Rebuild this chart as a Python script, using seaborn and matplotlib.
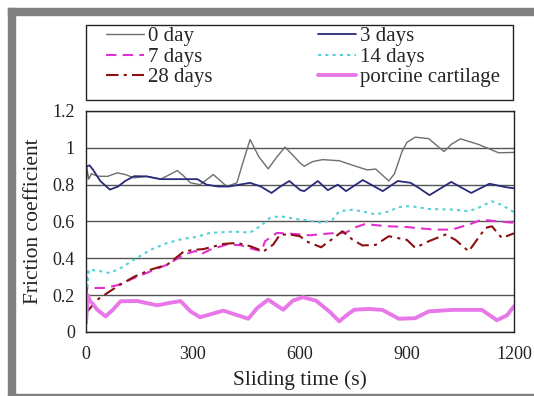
import matplotlib.pyplot as plt
import matplotlib.patches as mpatches
from matplotlib.ticker import MultipleLocator, FormatStrFormatter
import pandas as pd
import seaborn as sns

# values
t_0day = [0, 3, 8, 15, 32, 60, 88, 110, 135, 170, 209, 235, 256, 275, 293, 320, 357, 395, 423, 440, 460, 485,
          511, 535, 558, 580, 600, 612, 635, 663, 710, 756, 789, 812, 849, 865, 886, 900, 923, 961, 985, 1004,
          1025, 1050, 1101, 1157, 1200]
f_0day = [0.78, 0.88, 0.83, 0.86, 0.846, 0.845, 0.864, 0.855, 0.837, 0.845, 0.83, 0.855, 0.877, 0.845, 0.81,
          0.80, 0.855, 0.79, 0.81, 0.92, 1.045, 0.95, 0.886, 0.95, 1.004, 0.96, 0.918, 0.90, 0.925, 0.936, 0.93,
          0.90, 0.88, 0.885, 0.82, 0.86, 0.98, 1.03, 1.058, 1.05, 1.01, 0.98, 1.02, 1.049, 1.018, 0.973, 0.975]

t_3days = [0, 2, 10, 20, 40, 67, 90, 110, 135, 170, 209, 230, 312, 338, 370, 400, 430, 460, 490, 520, 545,
           570, 601, 612, 650, 678, 706, 729, 776, 832, 874, 910, 935, 963, 1024, 1080, 1131, 1178, 1200]
f_3days = [0.80, 0.90, 0.905, 0.88, 0.82, 0.773, 0.79, 0.82, 0.846, 0.845, 0.83, 0.83, 0.83, 0.80, 0.79, 0.79,
           0.80, 0.81, 0.79, 0.755, 0.79, 0.82, 0.77, 0.765, 0.82, 0.77, 0.80, 0.765, 0.825, 0.765, 0.82, 0.81,
           0.78, 0.743, 0.815, 0.755, 0.805, 0.786, 0.78]

t_7days = [0, 3, 8, 50, 88, 135, 182, 228, 275, 307, 320, 348, 395, 432, 474, 492, 502, 535, 563, 600, 626,
           682, 729, 756, 784, 812, 849, 900, 923, 979, 1026, 1073, 1110, 1157, 1200]
f_7days = [0.10, 0.24, 0.239, 0.239, 0.254, 0.293, 0.33, 0.366, 0.42, 0.44, 0.42, 0.447, 0.475, 0.472, 0.447,
           0.44, 0.493, 0.538, 0.535, 0.53, 0.525, 0.535, 0.54, 0.569, 0.587, 0.58, 0.574, 0.57, 0.565, 0.556,
           0.556, 0.583, 0.61, 0.60, 0.593]

t_14days = [0, 2, 4, 8, 41, 67, 100, 135, 182, 228, 275, 307, 348, 413, 460, 488, 516, 544, 600, 617, 663,
            691, 710, 747, 775, 812, 849, 877, 900, 923, 961, 1026, 1073, 1101, 1138, 1166, 1200]
f_14days = [0.20, 0.33, 0.25, 0.339, 0.33, 0.32, 0.35, 0.393, 0.447, 0.484, 0.507, 0.515, 0.538, 0.545, 0.54,
            0.574, 0.62, 0.629, 0.61, 0.608, 0.592, 0.61, 0.656, 0.664, 0.655, 0.638, 0.655, 0.678, 0.683, 0.68,
            0.668, 0.665, 0.656, 0.675, 0.71, 0.69, 0.65]

t_28days = [0, 32, 88, 135, 182, 228, 275, 307, 329, 385, 423, 460, 498, 525, 544, 572, 600, 617, 659, 701,
            719, 747, 775, 812, 849, 900, 923, 961, 1008, 1036, 1073, 1120, 1138, 1166, 1200]
f_28days = [0.103, 0.176, 0.248, 0.30, 0.339, 0.366, 0.438, 0.447, 0.45, 0.478, 0.484, 0.466, 0.438, 0.475,
            0.529, 0.529, 0.52, 0.493, 0.46, 0.52, 0.547, 0.502, 0.47, 0.473, 0.52, 0.50, 0.457, 0.493, 0.529,
            0.50, 0.438, 0.565, 0.574, 0.51, 0.536]

t_porcine = [0, 5, 12, 20, 32, 55, 75, 97, 144, 200, 240, 265, 293, 320, 385, 455, 480, 511, 530, 553, 580,
             608, 645, 682, 710, 730, 752, 794, 831, 877, 923, 961, 1026, 1110, 1152, 1180, 1200]
f_porcine = [0.05, 0.20, 0.167, 0.15, 0.12, 0.085, 0.12, 0.167, 0.168, 0.145, 0.16, 0.168, 0.112, 0.08, 0.116,
             0.072, 0.13, 0.176, 0.15, 0.121, 0.17, 0.189, 0.17, 0.112, 0.058, 0.09, 0.121, 0.125, 0.12, 0.072,
             0.075, 0.112, 0.12, 0.12, 0.064, 0.09, 0.14]

series = [
    ('0 day', t_0day, f_0day, '#6e6e6e', '-', 1.0),
    ('7 days', t_7days, f_7days, '#e030d0', (0, (5, 3)), 1.5),
    ('28 days', t_28days, f_28days, '#8b1010', (0, (6, 2.5, 1.5, 2.5)), 1.5),
    ('3 days', t_3days, f_3days, '#2a2a7a', '-', 1.3),
    ('14 days', t_14days, f_14days, '#55d0d8', (0, (1.5, 2)), 1.5),
    ('porcine cartilage', t_porcine, f_porcine, '#e878e8', '-', 2.8),
]

sns.set_style('white')
plt.rcParams['font.family'] = ['Liberation Serif', 'DejaVu Serif']
plt.rcParams['font.size'] = 13

W, H = 534, 396
fig = plt.figure(figsize=(5.34, 3.96), dpi=100)
ax = fig.add_axes([86 / W, 1 - 332 / H, 428 / W, 221 / H])

# grey frame round the picture
fig.patches.append(mpatches.Rectangle((8 / W, 1 - 15 / H), 1, 7 / H, transform=fig.transFigure,
                                      color='#808080', zorder=0))
fig.patches.append(mpatches.Rectangle((8 / W, 0), 7 / W, 1 - 8 / H, transform=fig.transFigure,
                                      color='#808080', zorder=0))
fig.patches.append(mpatches.Rectangle((8 / W, 0), 1, 2.5 / H, transform=fig.transFigure,
                                      color='#808080', zorder=0))
# legend box
fig.patches.append(mpatches.Rectangle((86 / W, 1 - 100 / H), 427 / W, 75 / H, transform=fig.transFigure,
                                      fill=False, edgecolor='#222222', linewidth=1.0))

for name, t, f, col, ls, lw in series:
    df = pd.DataFrame({'t': t, 'f': f})
    sns.lineplot(data=df, x='t', y='f', ax=ax, color=col, linestyle=ls, linewidth=lw, label=name)

ax.set_xlim(0, 1200)
ax.set_ylim(0, 1.2)
ax.xaxis.set_major_locator(MultipleLocator(300))
ax.xaxis.set_minor_locator(MultipleLocator(150))
ax.yaxis.set_major_locator(MultipleLocator(0.2))
ax.yaxis.set_minor_locator(MultipleLocator(0.1))
ax.yaxis.set_major_formatter(FormatStrFormatter('%g'))
ax.tick_params(which='both', direction='in', length=5, width=1, colors='#222222', labelsize=13)
ax.tick_params(axis='x', pad=10)
ax.tick_params(axis='y', pad=8)
ax.grid(axis='y', which='major', color='#555555', linewidth=1.0)
ax.set_axisbelow(True)
for s in ax.spines.values():
    s.set_color('#222222')
    s.set_linewidth(1.0)

ax.set_xlabel('Sliding time (s)', fontsize=15.5, color='#222222', labelpad=5)
ax.set_ylabel('Friction coefficient', fontsize=15.5, color='#222222', labelpad=7)

leg = ax.legend(loc='center left', bbox_to_anchor=((106 - 86) / 428, (332 - 57) / 221, (500 - 106) / 428, 0),
                mode='expand', ncol=2, borderaxespad=0, frameon=False, handlelength=1.8,
                handletextpad=0.2, labelspacing=0.05, borderpad=0, fontsize=15)

plt.savefig('out.png', dpi=100)
